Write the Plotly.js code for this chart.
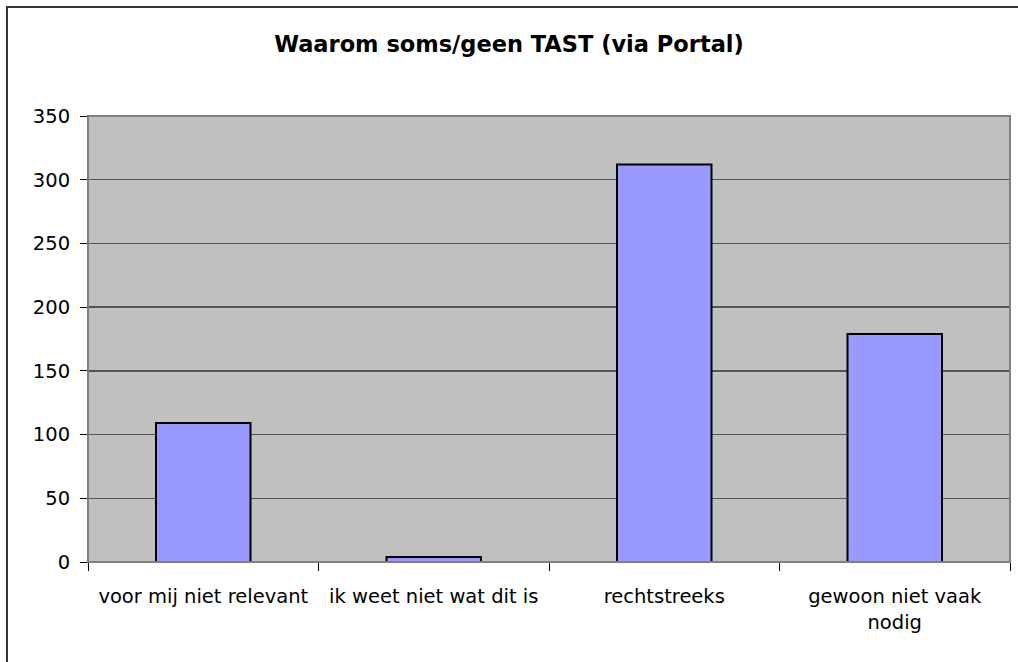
<!DOCTYPE html>
<html>
<head>
<meta charset="utf-8">
<script src="https://cdn.plot.ly/plotly-3.0.1.min.js"></script>
<style>html,body{margin:0;padding:0;background:#fff;}#chart{width:1018px;height:662px;}</style>
</head>
<body>
<div id="chart"></div>
<script>
var categories = ["voor mij niet relevant", "ik weet niet wat dit is", "rechtstreeks", "gewoon niet vaak<br>nodig"];
var values = [109, 4, 312, 179];
var yTicks = [0, 50, 100, 150, 200, 250, 300, 350];

var W = 1018, H = 662, L = 88, R = 8, T = 116, B = 100;
var pw = W - L - R, ph = H - T - B;
var FONT = 'DejaVu Sans, Verdana, sans-serif';

var trace = {
  type: 'bar',
  x: categories,
  y: values,
  width: 0.41,
  marker: {color: '#9999FF', line: {color: '#000000', width: 2}},
  hoverinfo: 'x+y'
};

var layout = {
  width: W, height: H,
  margin: {l: L, r: R, t: T, b: B, pad: 0},
  paper_bgcolor: '#ffffff',
  plot_bgcolor: '#C0C0C0',
  font: {family: FONT, size: 19.5, color: '#000'},
  title: {text: '<b>Waarom soms/geen TAST (via Portal)</b>', x: 0.5, xanchor: 'center', y: 0.933, yanchor: 'middle',
          font: {family: FONT, size: 22.5, color: '#000'}},
  showlegend: false,
  xaxis: {
    type: 'category',
    tickson: 'boundaries',
    ticks: 'outside', ticklen: 8, tickcolor: '#000', tickwidth: 1,
    showline: true, linecolor: '#000', linewidth: 1,
    showgrid: false,
    tickfont: {family: FONT, size: 19.5},
    ticklabelstandoff: 17,
    automargin: false
  },
  yaxis: {
    range: [0, 350],
    tickvals: yTicks,
    ticktext: yTicks.map(String),
    ticks: 'outside', ticklen: 7, tickcolor: '#000', tickwidth: 1,
    showline: true, linecolor: '#000', linewidth: 1,
    showgrid: true, gridcolor: '#555555', gridwidth: 1.5,
    zeroline: false,
    tickfont: {family: FONT, size: 19.5},
    ticklabelstandoff: 6,
    automargin: false
  },
  shapes: [
    {type: 'rect', xref: 'paper', yref: 'paper', layer: 'below',
     x0: (7 - L) / pw, x1: (W + 10 - L) / pw,
     y0: -(H + 10 - T - ph) / ph, y1: (H - B - 7) / ph,
     line: {color: '#333333', width: 2}, fillcolor: 'rgba(0,0,0,0)'},
    {type: 'rect', xref: 'paper', yref: 'paper', layer: 'above',
     x0: 0, x1: 1, y0: 0, y1: 1,
     line: {color: '#808080', width: 2}, fillcolor: 'rgba(0,0,0,0)'}
  ]
};

Plotly.newPlot('chart', [trace], layout, {displayModeBar: false, staticPlot: true});
</script>
</body>
</html>
